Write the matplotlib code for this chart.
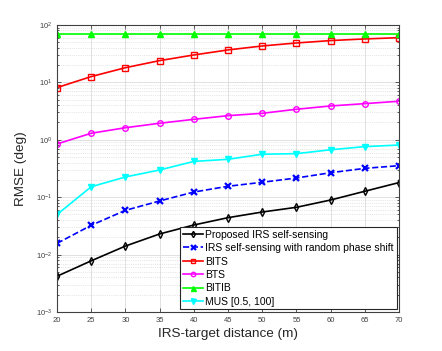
import matplotlib
matplotlib.use('Agg')
import matplotlib.pyplot as plt
from matplotlib.ticker import LogLocator, NullFormatter
import numpy as np

plt.rcParams['font.family'] = ['Liberation Sans', 'DejaVu Sans']
plt.rcParams['mathtext.fontset'] = 'custom'
plt.rcParams['mathtext.rm'] = 'Liberation Sans'

# IRS-target distance (m)
distance = [20, 25, 30, 35, 40, 45, 50, 55, 60, 65, 70]

# RMSE (deg)
proposed = [0.0042, 0.0078, 0.0141, 0.0229, 0.0328, 0.044, 0.0552, 0.0667, 0.0894, 0.127, 0.18]
random_phase = [0.0157, 0.0324, 0.059, 0.086, 0.123, 0.155, 0.182, 0.216, 0.267, 0.318, 0.354]
bits = [8.1, 12.6, 18.0, 23.9, 30.0, 36.7, 43.0, 48.5, 53.4, 57.0, 60.0]
bts = [0.845, 1.30, 1.62, 1.94, 2.27, 2.63, 2.89, 3.4, 3.88, 4.26, 4.69]
bitib = [70, 70, 70, 70, 70, 70, 70, 70, 70, 70, 70]
mus = [0.050, 0.152, 0.225, 0.298, 0.42, 0.457, 0.56, 0.573, 0.67, 0.76, 0.81]

fig = plt.figure(figsize=(4.42, 3.51), dpi=100)
ax = fig.add_axes([0.129, 0.111, 0.774, 0.818])

lw = 1.2
ax.plot(distance, proposed, '-', color='black', marker='d', ms=4, mfc='none', lw=lw,
        label='Proposed IRS self-sensing')
ax.plot(distance, random_phase, '--', color='blue', marker='x', ms=4.5, mew=1.6, lw=lw,
        label='IRS self-sensing with random phase shift')
ax.plot(distance, bits, '-', color='red', marker='s', ms=4, mfc='none', lw=lw, label='BITS')
ax.plot(distance, bts, '-', color='magenta', marker='o', ms=4, mfc='none', lw=lw, label='BTS')
ax.plot(distance, bitib, '-', color='#00ff00', marker='^', ms=4.5, lw=lw, label='BITIB')
ax.plot(distance, mus, '-', color='cyan', marker='v', ms=4.5, lw=lw, label='MUS [0.5, 100]')

ax.set_yscale('log')
ax.set_xlim(20, 70)
ax.set_ylim(1e-3, 1e2)
ax.set_xticks(distance)
ax.yaxis.set_major_locator(LogLocator(base=10, numticks=10))
ax.yaxis.set_minor_locator(LogLocator(base=10, subs=np.arange(2, 10), numticks=10))
ax.yaxis.set_minor_formatter(NullFormatter())

ax.grid(True, which='major', color='#dcdcdc', lw=0.6)
ax.grid(True, which='minor', axis='y', color='#d0d0d0', lw=0.5, ls=':')
ax.set_axisbelow(True)

ax.tick_params(which='both', direction='in', top=True, right=True, colors='#404040',
               labelsize=5.5, width=0.6)
ax.tick_params(which='major', length=3)
ax.tick_params(which='minor', length=1.5)
for s in ax.spines.values():
    s.set_color('#404040')
    s.set_linewidth(0.8)

ax.set_xlabel('IRS-target distance (m)', fontsize=9.7, color='#262626', labelpad=3)
ax.set_ylabel('RMSE (deg)', fontsize=9.7, color='#262626', labelpad=6)

leg = ax.legend(loc='lower right', fontsize=7.5, frameon=True, fancybox=False,
                edgecolor='#262626', framealpha=1, borderaxespad=0.25,
                handlelength=2.0, handletextpad=0.2, labelspacing=0.33, borderpad=0.25,
                markerscale=0.8)
leg.get_frame().set_linewidth(0.8)

fig.savefig('out.png', dpi=100)
